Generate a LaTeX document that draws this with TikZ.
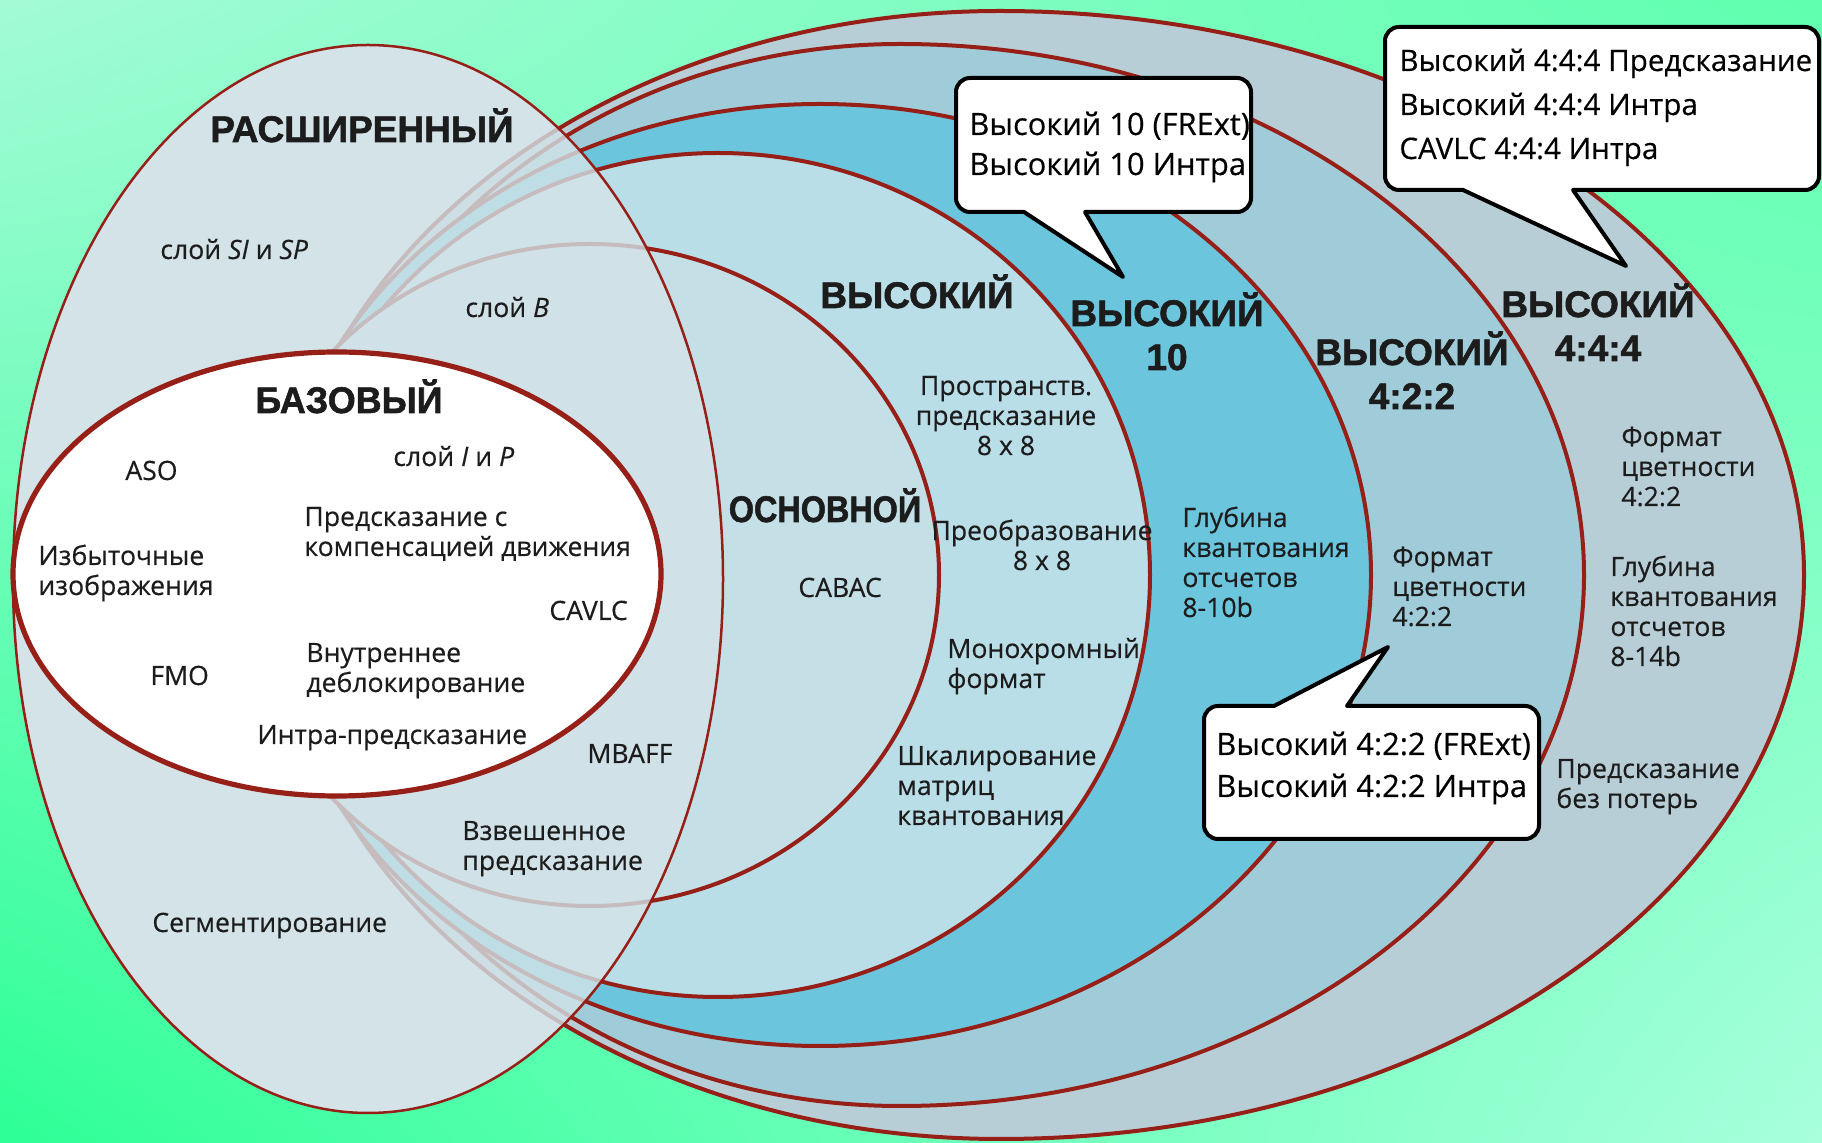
\documentclass[tikz,border=0pt]{standalone}
\usepackage{fontspec}
\usepackage{graphicx}
\usetikzlibrary{shadings}
\setmainfont{Open Sans}[FakeBold=0.4]
\newfontfamily\headfont{Liberation Sans}[BoldFeatures={FakeBold=1.5}]
\definecolor{bgTL}{RGB}{163,251,214}
\definecolor{bgTR}{RGB}{95,255,175}
\definecolor{bgBL}{RGB}{45,255,150}
\definecolor{bgBR}{RGB}{168,255,220}
\definecolor{rim}{RGB}{150,32,24}
\definecolor{extfill}{RGB}{211,227,232}
\definecolor{mainfill}{RGB}{197,223,231}
\definecolor{highfill}{RGB}{186,222,232}
\definecolor{hten}{RGB}{107,197,221}
\definecolor{hfour}{RGB}{160,204,218}
\definecolor{hfff}{RGB}{184,206,214}
\definecolor{ink}{RGB}{28,28,28}
\begin{document}
\begin{tikzpicture}[x=0.5pt,y=-0.5pt,
  ring/.style={draw=rim, line width=2pt, fill=#1},
  txt/.style={inner sep=0pt, text=ink, font=\fontsize{13.3}{15}\selectfont, align=left, anchor=base west},
  ctxt/.style={inner sep=0pt, text=ink, font=\fontsize{13.3}{15}\selectfont, align=center, anchor=base},
  head/.style={inner sep=0pt, text=ink, font=\headfont\bfseries\fontsize{18.5}{22}\selectfont, align=center, anchor=base},
  callout/.style={draw=black, line width=2pt, fill=white, line join=round},
  ctext/.style={inner sep=0pt, text=black, font=\fontsize{15.4}{#1}\selectfont, align=left, anchor=base west},
  ctextsm/.style={inner sep=0pt, text=black, font=\fontsize{14.8}{#1}\selectfont, align=left, anchor=base west}]
\useasboundingbox (0,0) rectangle (1822,1143);
\shade[upper left=bgTL, upper right=bgTR, lower left=bgBL, lower right=bgBR] (0,0) rectangle (1822,1143);
% extended profile, opaque base
\fill[extfill] (368,579) ellipse [x radius=355, y radius=534];
% rings
\filldraw[ring=hfff] (278,575) .. controls (278,263.5) and (601.2,11) .. (1000,11)
  .. controls (1444,11) and (1804,263.5) .. (1804,575)
  .. controls (1804,886.5) and (1444,1139) .. (1000,1139)
  .. controls (601.2,1139) and (278,886.5) .. (278,575) -- cycle;
\filldraw[ring=hfour] (307,575) .. controls (307,281.7) and (572.5,44) .. (900,44)
  .. controls (1277.8,44) and (1584,281.7) .. (1584,575)
  .. controls (1584,868.3) and (1277.8,1106) .. (900,1106)
  .. controls (572.5,1106) and (307,868.3) .. (307,575) -- cycle;
\filldraw[ring=hten] (820,575) ellipse [x radius=551, y radius=471];
\filldraw[ring=highfill] (718,575) ellipse [x radius=432, y radius=422];
\filldraw[ring=mainfill] (590,575) ellipse [x radius=349, y radius=331];
% extended profile, veil and outline
\fill[extfill, fill opacity=0.8] (368,579) ellipse [x radius=355, y radius=534];
\draw[rim, line width=1.25pt] (368,579) ellipse [x radius=355, y radius=534];
% baseline profile
\filldraw[fill=white, draw=rim, line width=2.6pt] (337,574) ellipse [x radius=324, y radius=222];
% callouts
\draw[callout] (1085,212) -- (1123,277) -- (1024,212) [rounded corners=7pt] -- (956,212) -- (956,78) -- (1251,78) -- (1251,212) [sharp corners] -- cycle;
\draw[callout] (1573,190) -- (1626,266) -- (1463,190) [rounded corners=7pt] -- (1385,190) -- (1385,27) -- (1819,27) -- (1819,190) [sharp corners] -- cycle;
\draw[callout] (1274,706) -- (1388,647) -- (1347,706) [rounded corners=7pt] -- (1539,706) -- (1539,839) -- (1204,839) -- (1204,706) [sharp corners] -- cycle;
\node[ctext=20pt] (c1) at (969,175) {Высокий 10 (FRExt)\\Высокий 10 Интра};
\node[ctextsm=22pt] (c2) at (1399,159) {Высокий 4:4:4 Предсказание\\Высокий 4:4:4 Интра\\CAVLC 4:4:4 Интра};
\node[ctext=21pt] (c3) at (1216,797) {Высокий 4:2:2 (FRExt)\\Высокий 4:2:2 Интра};
% headings
\node[head] (hExt) at (362,142) {РАСШИРЕННЫЙ};
\node[head] (hBase) at (349,413) {\scalebox{0.97}[1]{БАЗОВЫЙ}};
\node[head] (hMain) at (825,522) {\scalebox{0.875}[1]{ОСНОВНОЙ}};
\node[head] (hHigh) at (917,308) {ВЫСОКИЙ};
\node[head] (hTen) at (1167,370) {ВЫСОКИЙ\\10};
\node[head] (hFtt) at (1412,409) {ВЫСОКИЙ\\4:2:2};
\node[head] (hFff) at (1598,361) {ВЫСОКИЙ\\4:4:4};
% features
\node[txt] (sisp) at (160,259) {слой \textit{SI} и \textit{SP}};
\node[txt] (sb) at (465,317) {слой \textit{B}};
\node[txt] (aso) at (125,480) {ASO};
\node[txt] (sip) at (393,466) {слой \textit{I} и \textit{P}};
\node[txt] (mc) at (304,556) {Предсказание с\\компенсацией движения};
\node[txt] (red) at (38,595) {Избыточные\\изображения};
\node[txt] (cavlc) at (549,620) {CAVLC};
\node[txt] (fmo) at (150,685) {FMO};
\node[txt] (dbl) at (306,692) {Внутреннее\\деблокирование};
\node[txt] (intra) at (257,744) {Интра-предсказание};
\node[txt] (mbaff) at (587,763) {MBAFF};
\node[txt] (wp) at (462,870) {Взвешенное\\предсказание};
\node[txt] (seg) at (152,932) {Сегментирование};
\node[txt] (cabac) at (798,597) {CABAC};
\node[ctxt] (sp8) at (1006,455) {Пространств.\\предсказание\\8 x 8};
\node[ctxt] (tr8) at (1042,570) {Преобразование\\8 x 8};
\node[txt] (mono) at (947,688) {Монохромный\\формат};
\node[txt] (qm) at (897,825) {Шкалирование\\матриц\\квантования};
\node[txt] (bd10) at (1182,617) {Глубина\\квантования\\отсчетов\\8-10b};
\node[txt] (cf1) at (1392,626) {Формат\\цветности\\4:2:2};
\node[txt] (cf2) at (1621,506) {Формат\\цветности\\4:2:2};
\node[txt] (bd14) at (1610,666) {Глубина\\квантования\\отсчетов\\8-14b};
\node[txt] (ll) at (1556,808) {Предсказание\\без потерь};
\end{tikzpicture}
\end{document}
